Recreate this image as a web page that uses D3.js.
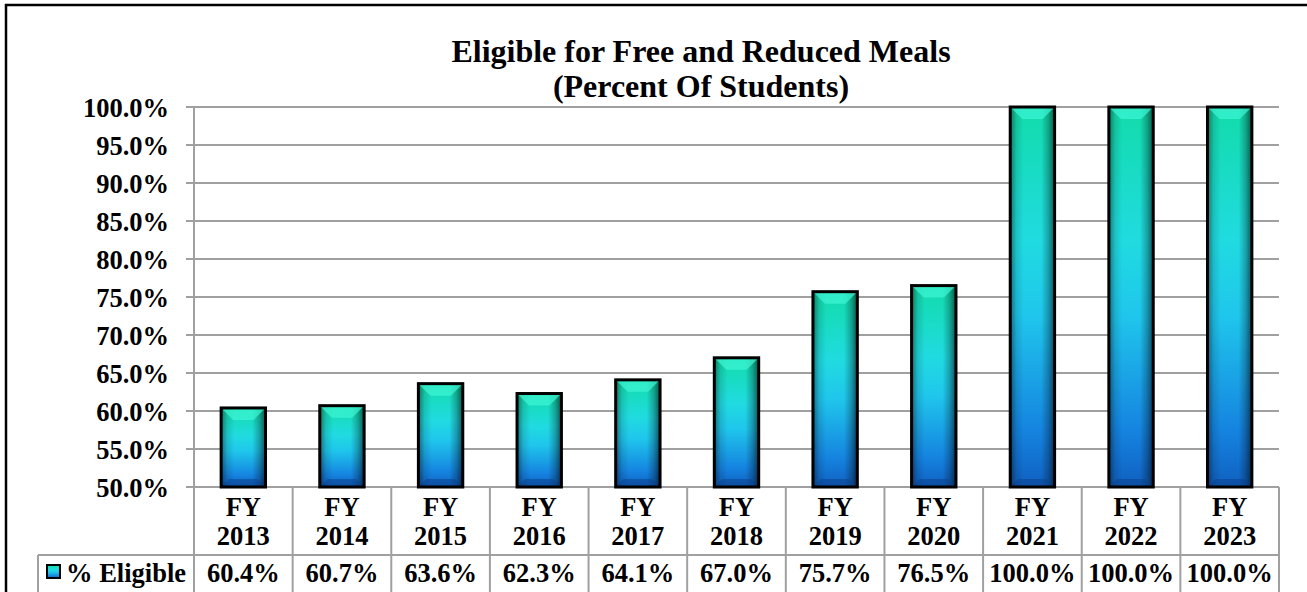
<!DOCTYPE html>
<html>
<head>
<meta charset="utf-8">
<script src="https://cdnjs.cloudflare.com/ajax/libs/d3/7.8.5/d3.min.js"></script>
<style>
  body { margin: 0; background: #fff; }
  svg text { font-family: "Liberation Serif", "Times New Roman", serif; font-weight: bold; fill: #000; }
</style>
</head>
<body>
<div id="chart"></div>
<script>
// data
var years = ["2013", "2014", "2015", "2016", "2017", "2018", "2019", "2020", "2021", "2022", "2023"];
var eligible = [0.604, 0.607, 0.636, 0.623, 0.641, 0.670, 0.757, 0.765, 1.000, 1.000, 1.000];
var yTicks = [0.50, 0.55, 0.60, 0.65, 0.70, 0.75, 0.80, 0.85, 0.90, 0.95, 1.00];
var seriesName = "% Eligible";
var titleLines = ["Eligible for Free and Reduced Meals", "(Percent Of Students)"];

var width = 1307, height = 592,
    plotLeft = 194, plotRight = 1279, plotTop = 107, plotBottom = 487,
    rowMid = 555, tableLeft = 38,
    gridColor = "#a0a0a0",
    fontSize = "26.5px";

var svg = d3.select("#chart").append("svg")
    .attr("width", width)
    .attr("height", height);

var defs = svg.append("defs");

var vgrad = defs.append("linearGradient")
    .attr("id", "barFill")
    .attr("x1", 0).attr("y1", 0).attr("x2", 0).attr("y2", 1);
vgrad.selectAll("stop")
    .data([[0, "#12dcaa"], [0.35, "#20dbe0"], [0.55, "#1fc6ec"], [0.85, "#1584e0"], [1, "#1060c0"]])
    .enter().append("stop")
    .attr("offset", function(d) { return d[0]; })
    .attr("stop-color", function(d) { return d[1]; });

var hgrad = defs.append("linearGradient")
    .attr("id", "barShade")
    .attr("x1", 0).attr("y1", 0).attr("x2", 1).attr("y2", 0);
hgrad.selectAll("stop")
    .data([[0, 0.45], [0.14, 0.12], [0.3, 0], [0.7, 0], [0.86, 0.25], [1, 0.6]])
    .enter().append("stop")
    .attr("offset", function(d) { return d[0]; })
    .attr("stop-color", "#000")
    .attr("stop-opacity", function(d) { return d[1]; });

// outer frame
svg.append("rect")
    .attr("x", 6).attr("y", 5)
    .attr("width", width + 10).attr("height", height + 10)
    .attr("fill", "none")
    .attr("stroke", "#000")
    .attr("stroke-width", 2.5);

// scales
var x = d3.scaleBand().domain(years).range([plotLeft, plotRight]).padding(0);
var barW = x.bandwidth() * 0.45;
var y = d3.scaleLinear().domain([0.5, 1.0]).range([plotBottom, plotTop]);

// title
svg.append("text")
    .attr("x", 701).attr("y", 62)
    .attr("text-anchor", "middle")
    .style("font-size", "32px")
    .selectAll("tspan")
    .data(titleLines)
    .enter().append("tspan")
    .attr("x", 701)
    .attr("dy", function(d, i) { return i ? 35 : 0; })
    .text(function(d) { return d; });

// gridlines
svg.append("g")
    .selectAll("line")
    .data(yTicks)
    .enter().append("line")
    .attr("x1", plotLeft - 8).attr("x2", plotRight)
    .attr("y1", function(d) { return y(d); })
    .attr("y2", function(d) { return y(d); })
    .attr("stroke", gridColor)
    .attr("stroke-width", 2);

// y axis
var yAxis = svg.append("g")
    .attr("transform", "translate(" + plotLeft + ",0)")
    .call(d3.axisLeft(y).tickValues(yTicks).tickFormat(d3.format(".1%")).tickSize(0).tickPadding(25));
yAxis.select(".domain").remove();
yAxis.selectAll("text").style("font-size", fontSize).attr("dy", "0.35em");

// bars
var bars = svg.append("g").selectAll("g.bar")
    .data(years)
    .enter().append("g")
    .attr("class", "bar");

function bx(d) { return x(d) + (x.bandwidth() - barW) / 2; }
function by(d, i) { return y(eligible[i]); }
function bh(d, i) { return plotBottom - y(eligible[i]); }

bars.append("rect")
    .attr("x", bx).attr("y", by)
    .attr("width", barW).attr("height", bh)
    .attr("fill", "url(#barFill)");
bars.append("rect")
    .attr("x", bx).attr("y", by)
    .attr("width", barW).attr("height", bh)
    .attr("fill", "url(#barShade)");
// top bevel
bars.append("path")
    .attr("d", function(d, i) {
        var x0 = bx(d), x1 = x0 + barW, t = by(d, i), b = 12;
        return "M" + x0 + "," + t + "L" + x1 + "," + t + "L" + (x1 - b) + "," + (t + b) + "L" + (x0 + b) + "," + (t + b) + "Z";
    })
    .attr("fill", "#3ff5d6")
    .attr("opacity", 0.7);
// bottom bevel
bars.append("path")
    .attr("d", function(d, i) {
        var x0 = bx(d), x1 = x0 + barW, b = 8;
        return "M" + x0 + "," + plotBottom + "L" + x1 + "," + plotBottom + "L" + (x1 - b) + "," + (plotBottom - b) + "L" + (x0 + b) + "," + (plotBottom - b) + "Z";
    })
    .attr("fill", "#0a3f8a")
    .attr("opacity", 0.5);
bars.append("rect")
    .attr("x", bx).attr("y", by)
    .attr("width", barW).attr("height", bh)
    .attr("fill", "none")
    .attr("stroke", "#000")
    .attr("stroke-width", 3);

// data table
var table = svg.append("g").attr("stroke", gridColor).attr("stroke-width", 2);
table.append("line")
    .attr("x1", plotLeft).attr("x2", plotLeft).attr("y1", plotTop).attr("y2", height + 5);
table.selectAll("line.col")
    .data(years)
    .enter().append("line")
    .attr("class", "col")
    .attr("x1", function(d) { return x(d) + x.bandwidth(); })
    .attr("x2", function(d) { return x(d) + x.bandwidth(); })
    .attr("y1", plotBottom).attr("y2", height + 5);
table.append("line")
    .attr("x1", tableLeft).attr("x2", plotRight).attr("y1", rowMid).attr("y2", rowMid);
table.append("line")
    .attr("x1", tableLeft).attr("x2", tableLeft).attr("y1", rowMid).attr("y2", height + 5);

var cats = svg.append("g").selectAll("text")
    .data(years)
    .enter().append("text")
    .attr("text-anchor", "middle")
    .style("font-size", fontSize);
cats.append("tspan")
    .attr("x", function(d) { return x(d) + x.bandwidth() / 2; })
    .attr("y", 516)
    .text("FY");
cats.append("tspan")
    .attr("x", function(d) { return x(d) + x.bandwidth() / 2; })
    .attr("y", 545)
    .text(function(d) { return d; });

svg.append("g").selectAll("text")
    .data(eligible)
    .enter().append("text")
    .attr("x", function(d, i) { return x(years[i]) + x.bandwidth() / 2; })
    .attr("y", 582)
    .attr("text-anchor", "middle")
    .style("font-size", fontSize)
    .text(function(d) { return d3.format(".1%")(d); });

// legend key
svg.append("rect")
    .attr("x", 47).attr("y", 565)
    .attr("width", 13).attr("height", 13)
    .attr("fill", "url(#barFill)")
    .attr("stroke", "#000")
    .attr("stroke-width", 2);
svg.append("text")
    .attr("x", 66).attr("y", 582)
    .style("font-size", fontSize)
    .text(seriesName);
</script>
</body>
</html>
